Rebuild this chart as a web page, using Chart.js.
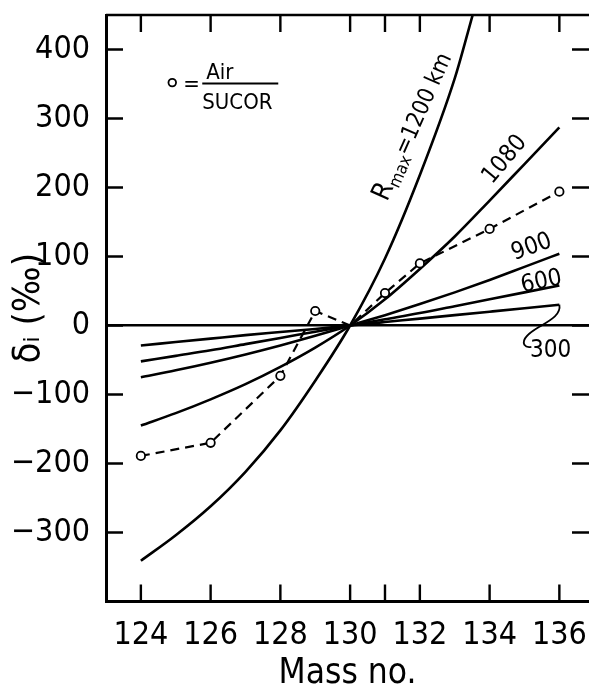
<!DOCTYPE html>
<html>
<head>
<meta charset="utf-8">
<script src="https://cdn.jsdelivr.net/npm/chart.js@4.4.0/dist/chart.umd.min.js"></script>
<style>
html, body { margin: 0; padding: 0; background: #fff; overflow: hidden; }
#wrap { width: 595px; height: 686px; }
</style>
</head>
<body>
<div id="wrap"><canvas id="chart1" width="595" height="686"></canvas></div>
<script>
// mass numbers and delta values (per mil)
var massNo = [124, 125, 126, 127, 128, 129, 130, 131, 132, 133, 134, 135, 136];
var r300 = [-29, -24, -19, -14, -9.5, -5, 0, 5, 10, 15, 20, 25, 30];
var r600 = [-52, -44, -36, -27, -18, -9, 0, 9, 18, 28, 38, 48, 58];
var r900 = [-75, -65, -54, -42, -29, -15, 0, 15, 31, 48, 66, 85, 104];
var r1080 = [-145, -127, -107, -85, -60, -32, 0, 38, 82, 129, 181, 234, 287];
var r1200Mass = [124, 125, 126, 127, 128, 129, 130, 131, 132, 133, 133.52];
var r1200 = [-341, -304, -262, -212, -152, -80, 0, 97, 218, 358, 451];
var airMass = [124, 126, 128, 129, 130, 131, 132, 134, 136];
var airSucor = [-189, -170, -73, 21, 0, 47, 90, 140, 194];

var xLabels = [124, 126, 128, 130, 132, 134, 136];
var xTickMarks = [124, 126, 128, 130, 131, 132, 134, 136];
var yLabels = [-300, -200, -100, 0, 100, 200, 300, 400];

var FONT = "'DejaVu Sans Condensed', 'DejaVu Sans', sans-serif";

function pts(xs, ys) {
	return xs.map(function(v, i) { return { x: v, y: ys[i] }; });
}

function curve(label, xs, ys) {
	return {
		label: label,
		data: pts(xs, ys),
		borderColor: "#000",
		borderWidth: 2.6,
		pointRadius: 0,
		cubicInterpolationMode: "monotone",
		fill: false
	};
}

// frame, inward ticks, curve labels and the key
var extras = {
	id: "extras",
	afterDatasetsDraw: function(chart) {
		var ctx = chart.ctx, a = chart.chartArea, x = chart.scales.x, y = chart.scales.y;
		ctx.save();
		ctx.strokeStyle = "#000";
		ctx.fillStyle = "#000";

		ctx.lineWidth = 2.5;
		ctx.beginPath();
		ctx.moveTo(a.left, a.top);
		ctx.lineTo(a.right + 2, a.top);
		ctx.stroke();

		ctx.lineWidth = 2.4;
		ctx.beginPath();
		xTickMarks.forEach(function(v) {
			var px = x.getPixelForValue(v);
			ctx.moveTo(px, a.bottom);
			ctx.lineTo(px, a.bottom - 17);
			ctx.moveTo(px, a.top);
			ctx.lineTo(px, a.top + 17);
		});
		yLabels.forEach(function(v) {
			var py = y.getPixelForValue(v);
			ctx.moveTo(a.left, py);
			ctx.lineTo(a.left + 17, py);
			ctx.moveTo(a.right, py);
			ctx.lineTo(a.right - 17, py);
		});
		ctx.stroke();

		function rotText(parts, mx, my, deg) {
			var cx = x.getPixelForValue(mx), cy = y.getPixelForValue(my);
			ctx.save();
			ctx.translate(cx, cy);
			ctx.rotate(deg * Math.PI / 180);
			ctx.textBaseline = "alphabetic";
			ctx.textAlign = "left";
			var total = 0;
			parts.forEach(function(p) {
				ctx.font = p[1] + "px " + FONT;
				total += ctx.measureText(p[0]).width;
			});
			var pos = -total / 2;
			parts.forEach(function(p) {
				ctx.font = p[1] + "px " + FONT;
				ctx.fillText(p[0], pos, 9 + (p[2] || 0));
				pos += ctx.measureText(p[0]).width;
			});
			ctx.restore();
		}

		rotText([["R", 27], ["max", 17, 5], ["=1200 km", 23]], 131.75, 289, -66);
		rotText([["1080", 24]], 134.38, 243, -50);
		rotText([["900", 24]], 135.18, 117, -20);
		rotText([["600", 24]], 135.47, 67, -12);
		rotText([["300", 24]], 135.75, -33, 0);

		// leader from the 300 curve to its label
		var ex = x.getPixelForValue(136), ey = y.getPixelForValue(r300[r300.length - 1]);
		ctx.lineWidth = 1.8;
		ctx.beginPath();
		ctx.moveTo(ex, ey);
		ctx.bezierCurveTo(ex + 2, ey + 10, ex - 10, ey + 16, ex - 20, ey + 22);
		ctx.bezierCurveTo(ex - 30, ey + 28, ex - 38, ey + 34, ex - 35, ey + 40);
		ctx.quadraticCurveTo(ex - 33, ey + 43, ex - 28, ey + 42);
		ctx.stroke();

		// key: o = Air / SUCOR
		var kx = x.getPixelForValue(124.9), ky = y.getPixelForValue(352);
		ctx.lineWidth = 1.8;
		ctx.fillStyle = "#fff";
		ctx.beginPath();
		ctx.arc(kx, ky, 3.8, 0, Math.PI * 2);
		ctx.fill();
		ctx.stroke();
		ctx.fillStyle = "#000";
		ctx.font = "22px " + FONT;
		ctx.textAlign = "left";
		ctx.textBaseline = "alphabetic";
		ctx.fillText("=", kx + 11, ky + 8);
		ctx.lineWidth = 2;
		ctx.beginPath();
		ctx.moveTo(kx + 30, ky + 1);
		ctx.lineTo(kx + 106, ky + 1);
		ctx.stroke();
		ctx.font = "22px " + FONT;
		ctx.fillText("Air", kx + 34, ky - 4);
		ctx.fillText("SUCOR", kx + 30, ky + 26);
		ctx.restore();
	}
};

var chart = new Chart(document.getElementById("chart1"), {
	type: "line",
	data: {
		datasets: [
			{
				label: "Air/SUCOR",
				data: pts(airMass, airSucor),
				borderColor: "#000",
				borderWidth: 2.2,
				borderDash: [9, 6],
				tension: 0,
				pointRadius: [4.2, 4.2, 4.2, 4.2, 0, 4.2, 4.2, 4.2, 4.2],
				pointBorderWidth: 1.8,
				pointBorderColor: "#000",
				pointBackgroundColor: "#fff",
				fill: false
			},
			curve("Rmax = 1200 km", r1200Mass, r1200),
			curve("1080", massNo, r1080),
			curve("900", massNo, r900),
			curve("600", massNo, r600),
			curve("300", massNo, r300)
		]
	},
	options: {
		responsive: false,
		animation: false,
		events: [],
		layout: { padding: { left: 0, top: 15, right: 3.4, bottom: 0 } },
		plugins: {
			legend: { display: false },
			tooltip: { enabled: false }
		},
		scales: {
			x: {
				type: "linear",
				min: 123,
				max: 136.85,
				afterBuildTicks: function(s) { s.ticks = xLabels.map(function(v) { return { value: v }; }); },
				afterFit: function(s) { s.height = 84.5; s.paddingLeft = 0; s.paddingRight = 0; },
				grid: { display: true, drawOnChartArea: false, drawTicks: false },
				border: { display: true, color: "#000", width: 3 },
				ticks: { color: "#000", padding: 15, maxRotation: 0, font: { family: FONT, size: 32 } },
				title: { display: true, text: "Mass no.", color: "#000", padding: { top: 0, bottom: -9 }, font: { family: FONT, size: 35 } }
			},
			y: {
				min: -400,
				max: 450,
				afterBuildTicks: function(s) { s.ticks = yLabels.map(function(v) { return { value: v }; }); },
				afterFit: function(s) { s.width = 106; s.paddingTop = 0; s.paddingBottom = 0; },
				grid: {
					drawTicks: false,
					color: function(c) { return c.tick && c.tick.value === 0 ? "#000" : "rgba(0,0,0,0)"; },
					lineWidth: 2.4
				},
				border: { display: true, color: "#000", width: 3 },
				ticks: {
					color: "#000",
					padding: 16,
					font: { family: FONT, size: 32 },
					callback: function(v) { return v < 0 ? "\u2212" + Math.abs(v) : "" + v; }
				},
				title: { display: true, text: "\u03b4\u1d62 (\u2030)", color: "#000", padding: { top: 6, bottom: 0 }, font: { family: FONT, size: 38 } }
			}
		}
	},
	plugins: [extras]
});
</script>
</body>
</html>
